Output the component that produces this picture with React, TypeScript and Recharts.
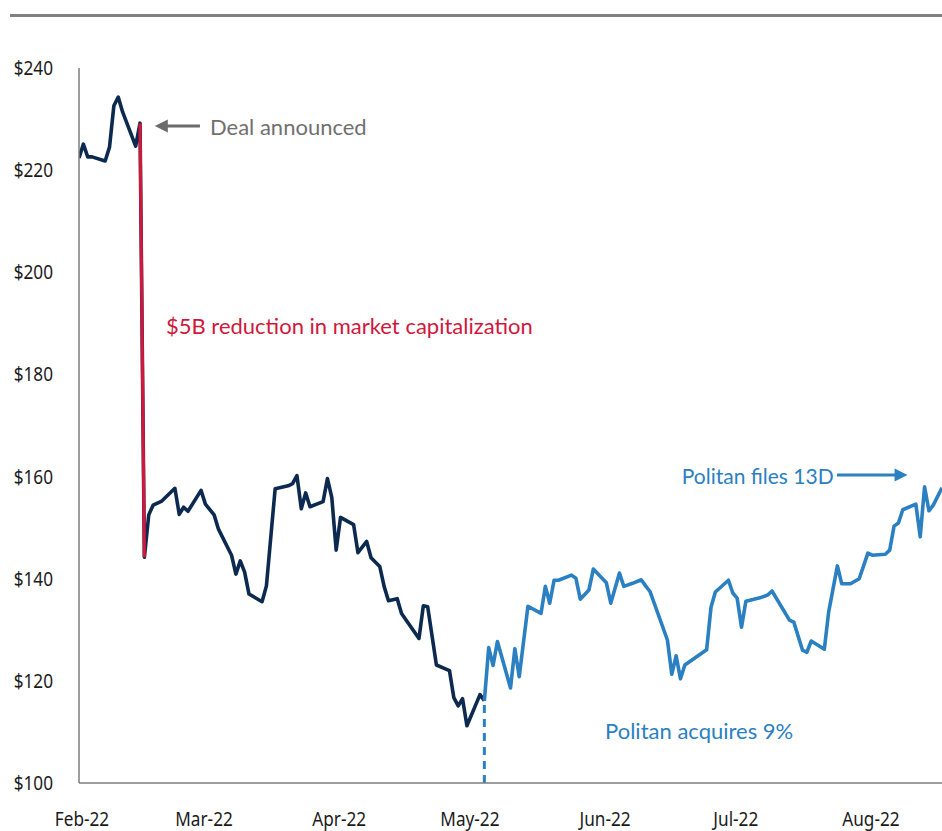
import React from 'react';
import { LineChart, Line, XAxis, YAxis, ReferenceLine, ReferenceDot } from 'recharts';

// ---- Data ----
const navyDates = [
  '2022-02-01','2022-02-02','2022-02-03','2022-02-04','2022-02-07','2022-02-08','2022-02-09','2022-02-10','2022-02-11','2022-02-14','2022-02-15',
  '2022-02-16','2022-02-17','2022-02-18','2022-02-20','2022-02-23','2022-02-24','2022-02-25','2022-02-26',
  '2022-03-01','2022-03-02','2022-03-04','2022-03-05','2022-03-08','2022-03-09','2022-03-10','2022-03-11','2022-03-12','2022-03-15','2022-03-16',
  '2022-03-18','2022-03-19','2022-03-21','2022-03-22','2022-03-23','2022-03-24','2022-03-25','2022-03-26','2022-03-29','2022-03-30','2022-03-31',
  '2022-04-01','2022-04-02','2022-04-05','2022-04-06','2022-04-08','2022-04-09','2022-04-11','2022-04-12','2022-04-13','2022-04-15','2022-04-16',
  '2022-04-20','2022-04-21','2022-04-22','2022-04-24','2022-04-27','2022-04-28','2022-04-29','2022-04-30','2022-05-01','2022-05-04','2022-05-05',
];
const navyValues = [
  222.4,225.1,222.6,222.6,221.8,224.5,232.6,234.3,231.4,224.7,229.2,
  144.2,152.5,154.4,155.2,157.7,152.6,154.0,153.2,
  157.3,154.6,152.5,149.7,144.6,140.9,143.5,141.3,137.0,135.5,138.6,
  157.6,157.8,158.2,158.6,160.2,153.7,156.8,154.1,155.1,159.6,155.9,
  145.6,152.0,150.6,145.1,147.3,144.1,142.4,138.5,135.7,136.1,133.2,
  128.3,134.7,134.5,123.1,122.0,116.7,115.1,116.5,111.2,117.3,116.1,
];

const dropDates = ['2022-02-15', '2022-02-16'];
const dropValues = [229.2, 144.2];

const blueDates = [
  '2022-05-05','2022-05-06','2022-05-07','2022-05-08','2022-05-11','2022-05-12','2022-05-13','2022-05-15','2022-05-18','2022-05-19','2022-05-20',
  '2022-05-21','2022-05-22','2022-05-25','2022-05-26','2022-05-27','2022-05-29','2022-05-30',
  '2022-06-02','2022-06-03','2022-06-05','2022-06-06','2022-06-08','2022-06-10','2022-06-11','2022-06-12','2022-06-16','2022-06-17','2022-06-18',
  '2022-06-19','2022-06-20','2022-06-25','2022-06-26','2022-06-27','2022-06-30',
  '2022-07-01','2022-07-02','2022-07-03','2022-07-04','2022-07-07','2022-07-09','2022-07-10','2022-07-14','2022-07-15','2022-07-17','2022-07-18',
  '2022-07-19','2022-07-22','2022-07-23','2022-07-25','2022-07-26','2022-07-28','2022-07-30',
  '2022-08-01','2022-08-02','2022-08-05','2022-08-06','2022-08-07','2022-08-08','2022-08-09','2022-08-12','2022-08-13','2022-08-14','2022-08-15',
  '2022-08-16','2022-08-18',
];
const blueValues = [
  116.1,126.5,123.0,127.7,118.6,126.3,120.8,134.6,133.2,138.5,135.2,
  139.7,139.7,140.7,140.1,136.0,137.8,141.9,
  139.2,135.2,141.1,138.5,139.1,139.8,138.6,137.5,128.0,121.3,124.9,
  120.4,123.1,126.1,134.4,137.4,139.7,
  137.2,136.2,130.5,135.6,136.2,136.8,137.6,131.9,131.5,126.0,125.6,
  127.8,126.2,133.5,142.5,139.0,139.0,140.0,
  145.0,144.6,144.8,145.6,150.3,150.9,153.5,154.6,148.2,158.0,153.3,
  154.4,157.8,
];

const tickDates = ['2022-02-01','2022-03-01','2022-04-01','2022-05-01','2022-06-01','2022-07-01','2022-08-01'];
const tickLabels = ['Feb-22','Mar-22','Apr-22','May-22','Jun-22','Jul-22','Aug-22'];
const yTicks = [100, 120, 140, 160, 180, 200, 220, 240];

const politanStartDate = '2022-05-05';
const politanStartValue = 116.1;

// ---- helpers ----
const BASE = Date.parse('2022-02-01T00:00:00Z');
const toDay = (s: string) => (Date.parse(s + 'T00:00:00Z') - BASE) / 86400000;
const build = (dates: string[], vals: number[]) => dates.map((d, i) => ({ d: toDay(d), v: vals[i] }));

const navyData = build(navyDates, navyValues);
const dropData = build(dropDates, dropValues);
const blueData = build(blueDates, blueValues);
const xTicks = tickDates.map(toDay);
const tickLabelMap: Record<number, string> = {};
xTicks.forEach((t, i) => { tickLabelMap[t] = tickLabels[i]; });

const NAVY = '#0c2a50';
const RED = '#d2173c';
const BLUE = '#2b80c2';
const GRAY_TEXT = '#707070';
const AXIS = '#7d7d7d';
const TICK_FONT = '"Noto Sans", sans-serif';
const ANN_FONT = 'Lato, sans-serif';

const XTick = (props: any) => {
  const { x, y, payload } = props;
  return (
    <g transform={`translate(${x + 3},${y + 43})`}>
      <text transform="scale(0.86,1)" textAnchor="middle" fontFamily={TICK_FONT} fontSize={20} fill="#1a1a1a">
        {tickLabelMap[payload.value]}
      </text>
    </g>
  );
};

const YTick = (props: any) => {
  const { x, y, payload } = props;
  return (
    <g transform={`translate(${x},${y + 7})`}>
      <text transform="scale(0.86,1)" textAnchor="end" fontFamily={TICK_FONT} fontSize={20} fill="#1a1a1a">
        {`$${payload.value}`}
      </text>
    </g>
  );
};

const textShape = (label: string, color: string, size: number) => (p: any) => (
  <text x={p.cx} y={p.cy} fontFamily={ANN_FONT} fontSize={size} fill={color}>{label}</text>
);

const arrowShape = (color: string) => (p: any) => {
  const { x1, y1, x2, y2 } = p;
  const dir = x2 > x1 ? 1 : -1;
  const head = 13;
  const hw = 6.5;
  return (
    <g>
      <line x1={x1} y1={y1} x2={x2 - dir * head + dir * 1} y2={y2} stroke={color} strokeWidth={3} />
      <polygon points={`${x2},${y2} ${x2 - dir * head},${y2 - hw} ${x2 - dir * head},${y2 + hw}`} fill={color} />
    </g>
  );
};

export default function App() {
  return (
    <div style={{ position: 'absolute', left: 0, top: 0, width: 942, height: 831, background: '#fff' }}>
      <div style={{ position: 'absolute', left: 10, top: 14, width: 932, height: 3, background: '#808080' }} />
      <LineChart width={942} height={831} margin={{ top: 68, right: 0, bottom: 0, left: 0 }}>
        <XAxis
          type="number"
          dataKey="d"
          domain={[0, 198]}
          ticks={xTicks}
          tick={<XTick />}
          tickLine={false}
          tickSize={0}
          tickMargin={0}
          height={48}
          axisLine={{ stroke: AXIS, strokeWidth: 1.5 }}
          allowDataOverflow
          interval={0}
        />
        <YAxis
          type="number"
          dataKey="v"
          domain={[100, 240]}
          ticks={yTicks}
          tick={<YTick />}
          tickLine={false}
          tickSize={0}
          tickMargin={26}
          width={79}
          axisLine={{ stroke: AXIS, strokeWidth: 1.5 }}
          interval={0}
        />
        <ReferenceLine
          segment={[{ x: toDay(politanStartDate), y: 100 }, { x: toDay(politanStartDate), y: politanStartValue }]}
          stroke={BLUE}
          strokeWidth={3}
          strokeDasharray="8 6"
        />
        <Line data={navyData} dataKey="v" type="linear" stroke={NAVY} strokeWidth={3.6} strokeLinejoin="round" dot={false} isAnimationActive={false} />
        <Line data={dropData} dataKey="v" type="linear" stroke={RED} strokeWidth={3.2} dot={false} isAnimationActive={false} />
        <Line data={blueData} dataKey="v" type="linear" stroke={BLUE} strokeWidth={3.6} strokeLinejoin="round" dot={false} isAnimationActive={false} />

        <ReferenceLine segment={[{ x: 27.75, y: 228.64 }, { x: 17.4, y: 228.64 }]} shape={arrowShape('#6b6b6b')} />
        <ReferenceLine segment={[{ x: 173.9, y: 160.3 }, { x: 190.1, y: 160.3 }]} shape={arrowShape(BLUE)} />

        <ReferenceDot x={30.05} y={226.88} r={0} shape={textShape('Deal announced', GRAY_TEXT, 22)} />
        <ReferenceDot x={19.96} y={187.9} r={0} shape={textShape('$5B reduction in market capitalization', RED, 22)} />
        <ReferenceDot x={138.3} y={158.54} r={0} shape={textShape('Politan files 13D', BLUE, 21)} />
        <ReferenceDot x={120.7} y={108.6} r={0} shape={textShape('Politan acquires 9%', BLUE, 22)} />
      </LineChart>
    </div>
  );
}
